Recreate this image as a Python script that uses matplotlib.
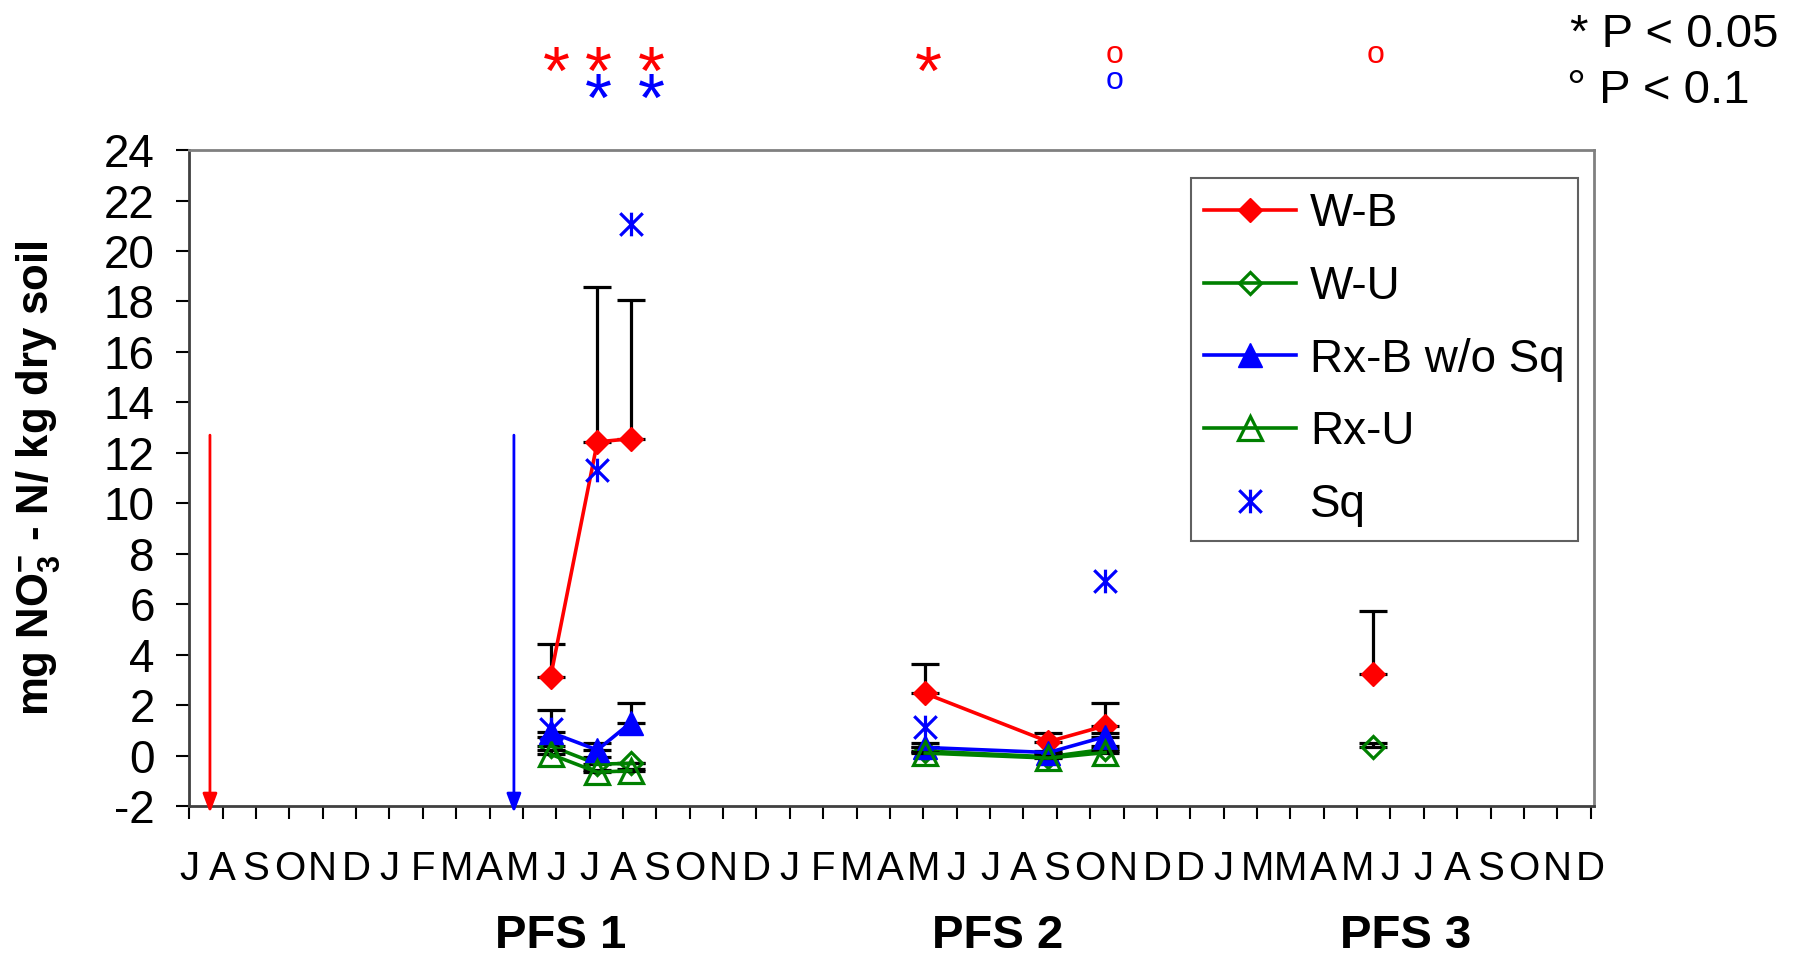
import numpy as np
import matplotlib
matplotlib.use("Agg")
import matplotlib.pyplot as plt
import matplotlib.transforms as mtransforms
from matplotlib.path import Path

plt.rcParams['font.family'] = ['Liberation Sans', 'DejaVu Sans']
plt.rcParams['axes.unicode_minus'] = False
plt.rcParams['mathtext.fontset'] = 'custom'
plt.rcParams['mathtext.rm'] = 'Liberation Sans:bold'
plt.rcParams['mathtext.bf'] = 'Liberation Sans:bold'
narrow = ['Liberation Sans Narrow', 'Liberation Sans', 'DejaVu Sans']

# month letters under the ticks (typos kept as in the original)
months = ["J", "A", "S", "O", "N", "D", "J", "F", "M", "A", "M", "J",
          "J", "A", "S", "O", "N", "D", "J", "F", "M", "A", "M", "J",
          "J", "A", "S", "O", "N", "D", "D", "J", "M", "M", "A", "M", "J",
          "J", "A", "S", "O", "N", "D"]

# sampling dates, in months from the first tick
pfs_group = [1, 1, 1, 2, 2, 2, 3]
sample_x = [10.83, 12.23, 13.23, 22.06, 25.75, 27.45, 35.47]

wb = [3.12, 12.43, 12.56, 2.46, 0.55, 1.18, 3.23]
wb_err = [1.30, 6.14, 5.51, 1.18, 0.33, 0.89, 2.50]
wu = [0.38, -0.34, -0.31, 0.18, -0.05, 0.25, 0.35]
wu_err = [0.36, 0.29, 0.03, 0.17, 0.10, 0.13, 0.16]
rxb = [0.92, 0.22, 1.30, 0.32, 0.12, 0.75, np.nan]
rxb_err = [0.88, 0.26, 0.79, 0.19, 0.08, 0.13, np.nan]
rxu = [0.05, -0.66, -0.60, 0.10, -0.10, 0.12, np.nan]
rxu_err = [0.17, 0.10, 0.05, 0.05, 0.08, 0.05, np.nan]
sq = [1.05, 11.31, 21.08, 1.14, np.nan, 6.92, np.nan]

# burn arrows (x in months, top value)
arrow_x = [0.62, 9.73]
arrow_top = 12.7
arrow_colors = ["red", "blue"]

# significance marks above the plot
sig_red_star = [10.99, 12.25, 13.84, 22.16]
sig_blue_star = [12.25, 13.84]
sig_red_circ = [27.72, 35.54]
sig_blue_circ = [27.72]

pfs_names = ["PFS 1", "PFS 2", "PFS 3"]
pfs_label_x = [11.14, 24.23, 36.46]

GREEN = "#008000"
asterisk = Path([(-1, -1), (1, 1), (-1, 1), (1, -1), (0, -1.05), (0, 1.05)],
                [Path.MOVETO, Path.LINETO] * 3)

fig = plt.figure(figsize=(18.06, 9.6), dpi=100)
ax = fig.add_axes([0.1048, 0.1604, 0.7778, 0.6833])

series = [
    ("W-B", wb, wb_err, dict(color="red", marker="D", ms=12.5, mfc="red", mec="red", lw=2.6)),
    ("W-U", wu, wu_err, dict(color=GREEN, marker="D", ms=11.5, mfc="none", mec=GREEN, mew=2.3, lw=2.6)),
    ("Rx-B w/o Sq", rxb, rxb_err, dict(color="blue", marker="^", ms=17.5, mfc="blue", mec="blue", lw=2.6)),
    ("Rx-U", rxu, rxu_err, dict(color=GREEN, marker="^", ms=17.5, mfc="none", mec=GREEN, mew=2.3, lw=2.6)),
    ("Sq", sq, None, dict(color="blue", marker=asterisk, ms=17, mfc="none", mec="blue", mew=2.3, ls="none")),
]

x = np.array(sample_x)
grp = np.array(pfs_group)
handles = []
for k, (name, vals, err, style) in enumerate(series):
    y = np.array(vals, dtype=float)
    z = 3 + k
    if err is not None:
        e = np.array(err, dtype=float)
        ax.errorbar(x, y, yerr=[np.zeros_like(e), e], fmt="none", ecolor="black",
                    elinewidth=2.3, capsize=10, capthick=2.3, zorder=z - 0.5)
    for g in (1, 2, 3):
        m = grp == g
        ln, = ax.plot(x[m], y[m], zorder=z, clip_on=False, **style)
        if g == 1:
            handles.append(ln)

for xa, c in zip(arrow_x, arrow_colors):
    ax.annotate("", xy=(xa, -2.27), xytext=(xa, arrow_top), annotation_clip=False,
                arrowprops=dict(arrowstyle="-|>,head_length=0.95,head_width=0.36",
                                color=c, lw=2.0, shrinkA=0, shrinkB=0, mutation_scale=12))

ax.set_xlim(0, 42.1)
ax.set_ylim(-2, 24)
ax.set_yticks(np.arange(-2, 25, 2))
ax.set_xticks(range(len(months)))
ax.set_xticklabels(months, fontfamily=narrow, fontsize=29)
ax.tick_params(axis="x", direction="out", length=9.4, width=1.5, pad=22)
ax.tick_params(axis="y", direction="out", length=9.4, width=1.5, pad=15.5, labelsize=33)

for side in ("left", "bottom"):
    ax.spines[side].set_color("#404040")
    ax.spines[side].set_linewidth(2)
for side in ("top", "right"):
    ax.spines[side].set_color("#808080")
    ax.spines[side].set_linewidth(2)

ax.set_ylabel(r"mg NO$_{\mathbf{3}}^{\mathbf{-}}$ - N/ kg dry soil", fontsize=31.5, fontweight="bold")
ax.yaxis.set_label_coords(-0.0906, 0.5)

trans = mtransforms.blended_transform_factory(ax.transData, ax.transAxes)
for xs in sig_red_star:
    ax.text(xs, 1.0859, "*", color="red", fontsize=50, ha="center", va="baseline", transform=trans)
for xs in sig_blue_star:
    ax.text(xs, 1.0448, "*", color="blue", fontsize=50, ha="center", va="baseline", transform=trans)
for xs in sig_red_circ:
    ax.text(xs, 1.145, "o", color="red", fontsize=23, ha="center", va="center",
            fontfamily=narrow, transform=trans)
for xs in sig_blue_circ:
    ax.text(xs, 1.105, "o", color="blue", fontsize=23, ha="center", va="center",
            fontfamily=narrow, transform=trans)

for name, xs in zip(pfs_names, pfs_label_x):
    ax.text(xs, -0.2165, name, fontsize=34, fontweight="bold", fontfamily=narrow,
            ha="center", va="baseline", transform=trans)

fig.text(0.8693, 0.964, "* P < 0.05", fontsize=34, fontfamily=narrow, va="center")
fig.text(0.8677, 0.905, "° P < 0.1", fontsize=34, fontfamily=narrow, va="center")

leg = ax.legend(handles, [s[0] for s in series], loc="upper left",
                bbox_to_anchor=(1190.7 / 1806, 1 - 178 / 960), bbox_transform=fig.transFigure,
                fontsize=33, handlelength=2.0, handletextpad=0.3, labelspacing=0.63,
                borderpad=0.3, borderaxespad=0, fancybox=False, framealpha=1)
leg.get_frame().set_edgecolor("#606060")
leg.get_frame().set_linewidth(1.5)

fig.savefig("out.png", dpi=100)
